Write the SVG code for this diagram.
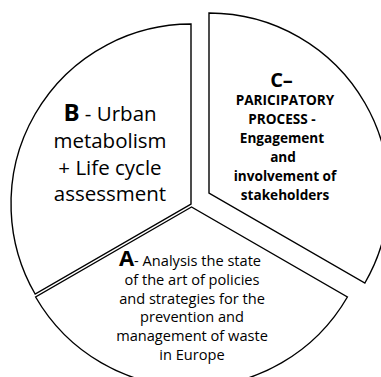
<svg xmlns="http://www.w3.org/2000/svg" width="381" height="377" viewBox="0 0 381 377">
<style>
.sec{fill:#ffffff;stroke:#000000;stroke-width:1.4;stroke-linejoin:miter}
.t{font-family:"Open Sans","Liberation Sans",sans-serif;fill:#000000;text-anchor:middle}
.b{font-weight:bold}
</style>
<rect width="381" height="377" fill="#ffffff"/>
<g id="sector-B">
<path class="sec" d="M191,204 L191,24 A180,180 0 0,0 35.12,294 Z"/>
<text class="t" font-size="20.5"><tspan x="110" y="121"><tspan class="b" font-size="24">B</tspan> - Urban</tspan><tspan x="110" y="148">metabolism</tspan><tspan x="110" y="174.5">+ Life cycle</tspan><tspan x="110" y="201">assessment</tspan></text>
</g>
<g id="sector-A">
<path class="sec" d="M191.5,207 L35.6,297 A180,180 0 0,0 347.4,297 Z"/>
<text class="t" font-size="14.6"><tspan x="190" y="266"><tspan class="b" font-size="22">A</tspan>- Analysis the state</tspan><tspan x="192" y="284.8">of the art of policies</tspan><tspan x="192" y="303.6">and strategies for the</tspan><tspan x="192" y="322.4">prevention and</tspan><tspan x="192" y="341.2">management of waste</tspan><tspan x="192" y="360">in Europe</tspan></text>
</g>
<g id="sector-C">
<path class="sec" d="M209,193 L209,13 A180,180 0 0,1 364.9,283 Z"/>
<text class="t b" font-size="20"><tspan x="281.5" y="86.5">C–</tspan></text>
<text class="t b" font-size="13.6"><tspan x="285" y="105">PARICIPATORY</tspan><tspan x="282" y="124">PROCESS -</tspan><tspan x="282" y="143">Engagement</tspan><tspan x="283" y="162">and</tspan><tspan x="285" y="181">involvement of</tspan><tspan x="285" y="200">stakeholders</tspan></text>
</g>
<g id="connectors"></g>
</svg>
